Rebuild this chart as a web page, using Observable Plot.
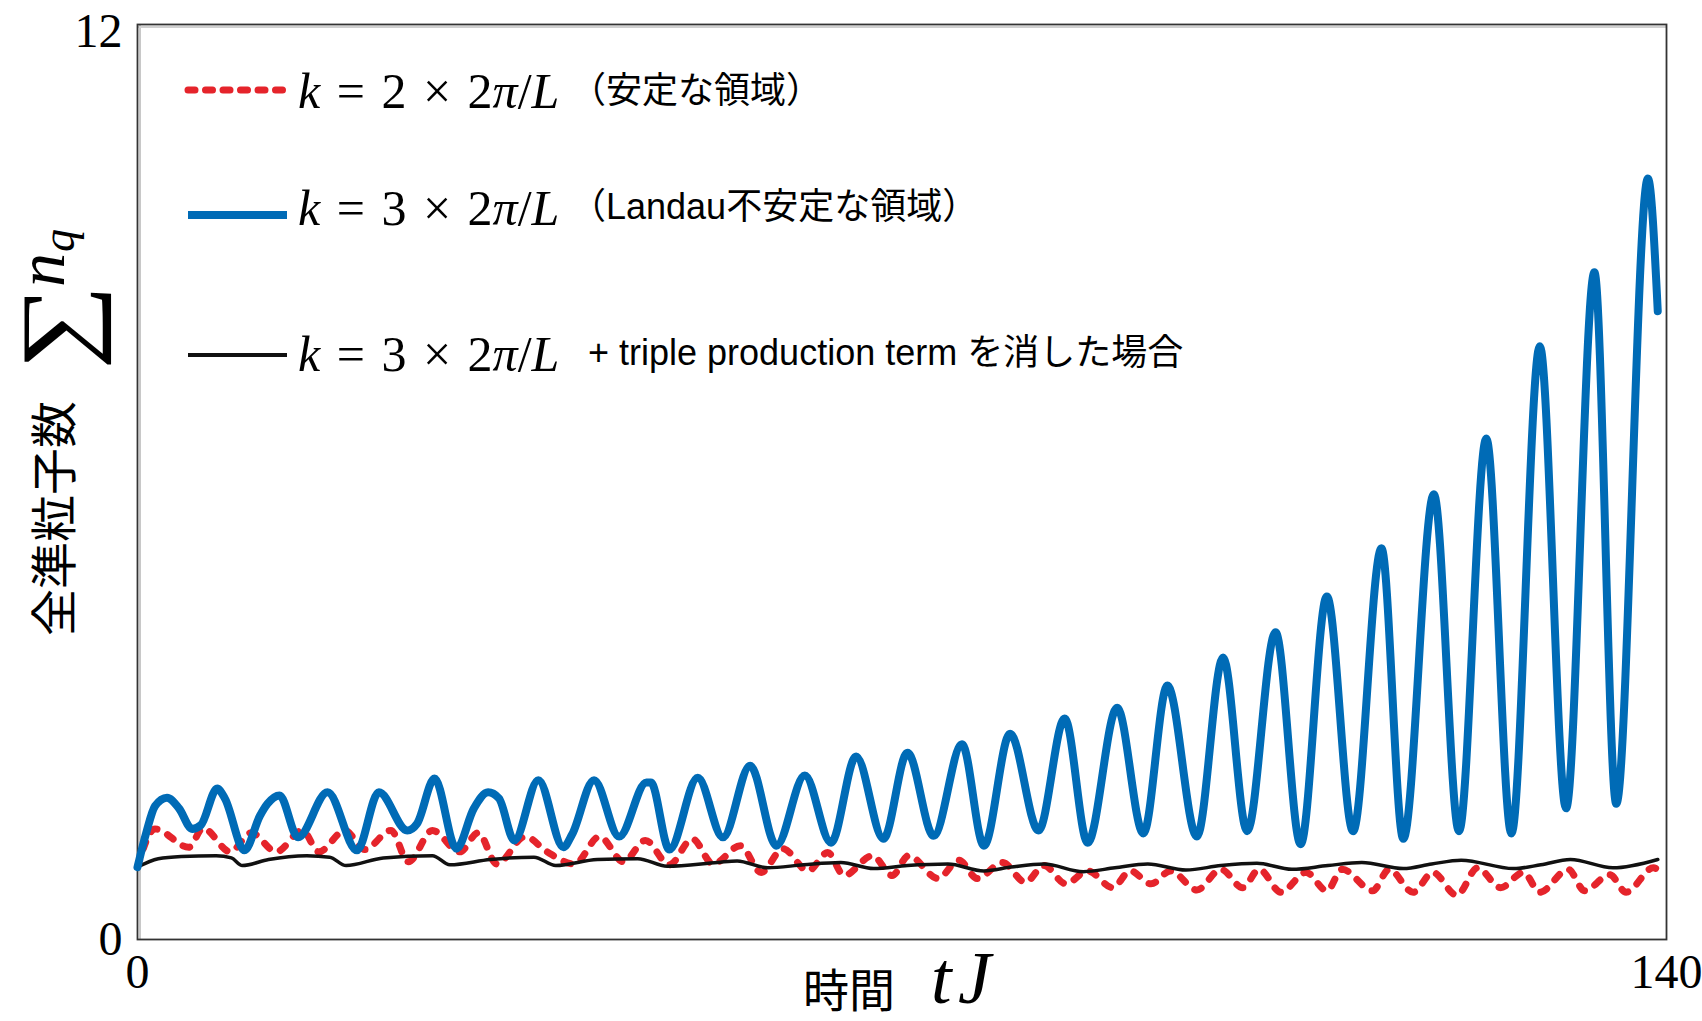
<!DOCTYPE html>
<html><head><meta charset="utf-8">
<script src="https://cdn.jsdelivr.net/npm/d3@7"></script>
<script src="https://cdn.jsdelivr.net/npm/@observablehq/plot@0.6"></script>
<style>
html,body{margin:0;padding:0;background:#fff;}
#wrap{position:relative;width:1702px;height:1021px;overflow:hidden;background:#fff;}
.ov{position:absolute;white-space:nowrap;line-height:1;color:#000;}
.jp{font-family:"Liberation Sans","Noto Sans CJK JP",sans-serif;}
.m{font-family:"Liberation Serif",serif;}
</style></head><body>
<div id="wrap"></div>
<script>
// ---- data ----
const xTicks = [0, 140];
const yTicks = [0, 12];

// k = 3 x 2pi/L (Landau unstable) - blue
const blueT = [0.0,0.8,1.6,2.7,3.8,5.0,5.8,7.3,8.0,9.8,11.2,11.9,13.0,14.7,17.4,20.1,22.1,24.7,25.6,27.2,29.2,30.8,32.1,33.1,34.5,36.7,39.0,39.8,41.8,44.1,46.6,47.0,48.7,51.3,53.6,56.1,58.5,61.1,63.5,65.8,68.3,70.5,72.9,75.5,77.5,79.9,82.5,84.9,87.0,89.7,92.1,94.3,97.0,99.4,101.6,104.2,106.5,108.9,111.3,113.9,115.9,118.7,121.0,123.5,125.8,128.4,130.8,133.4,135.4,138.3,139.2];
const blueV = [0.95,1.40,1.75,1.86,1.72,1.45,1.50,1.98,1.85,1.17,1.62,1.78,1.89,1.34,1.93,1.17,1.93,1.43,1.52,2.11,1.19,1.72,1.93,1.85,1.30,2.09,1.21,1.38,2.09,1.35,2.06,2.06,1.18,2.12,1.34,2.28,1.23,2.15,1.27,2.40,1.32,2.45,1.36,2.56,1.23,2.70,1.43,2.90,1.27,3.04,1.39,3.33,1.35,3.70,1.42,4.03,1.25,4.50,1.42,5.13,1.32,5.84,1.42,6.57,1.39,7.78,1.72,8.75,1.78,9.98,8.24];

// k = 2 x 2pi/L (stable) - red dashed
const redT = [0.0,1.6,4.7,6.0,8.5,10.4,12.7,15.1,16.6,19.0,20.8,23.2,24.8,27.0,29.5,31.2,32.9,35.5,37.5,40.0,42.3,44.5,46.5,48.7,50.8,52.7,55.2,57.1,59.1,61.4,63.2,64.7,67.3,69.1,70.6,73.3,75.2,76.9,79.2,81.3,83.0,85.0,87.0,89.3,90.9,92.8,94.6,97.0,99.2,101.2,102.7,104.7,107.0,108.9,110.3,113.1,114.6,116.8,118.6,120.8,122.7,124.8,126.9,128.4,131.0,132.5,134.8,136.3,138.8,139.6];
const redV = [0.95,1.45,1.21,1.46,1.15,1.40,1.15,1.43,1.15,1.43,1.18,1.43,1.02,1.43,1.15,1.40,0.99,1.35,1.15,0.99,1.35,1.02,1.30,0.98,1.32,0.99,1.23,0.88,1.19,0.90,1.14,0.84,1.10,0.84,1.10,0.80,1.04,0.80,1.01,0.75,0.97,0.73,0.90,0.68,0.90,0.73,0.90,0.65,0.92,0.68,0.92,0.62,0.88,0.64,0.92,0.64,0.92,0.62,0.88,0.58,0.94,0.68,0.88,0.62,0.92,0.64,0.85,0.62,0.94,0.85];

// k = 3 x 2pi/L without triple production term - black
const blackT = [0.0,1.9,4.0,7.2,8.6,9.6,12.0,15.5,17.6,19.1,22.5,27.0,28.6,32.3,36.3,38.3,42.1,45.8,48.5,53.1,54.9,57.7,61.0,64.4,67.4,70.5,74.2,77.5,80.0,83.0,86.6,89.5,92.5,96.0,99.2,102.5,105.7,109.0,112.1,115.9,118.5,121.2,126.0,128.5,131.2,135.1,139.2];
const blackV = [0.95,1.06,1.09,1.10,1.07,0.97,1.05,1.10,1.08,0.97,1.07,1.10,0.98,1.05,1.08,0.97,1.05,1.06,0.96,1.01,1.03,0.94,0.98,1.01,0.93,0.97,0.99,0.90,0.95,0.99,0.89,0.94,0.99,0.91,0.97,1.00,0.92,0.97,1.01,0.93,0.99,1.04,0.93,0.98,1.05,0.94,1.05];

const legendK = ["2", "3", "3"];
const legendNotes = ["（安定な領域）", "（Landau不安定な領域）", "+ triple production term を消した場合"];
const yLabelText = "全準粒子数";
const xLabelText = "時間";

// ---- build ----
const rows = (T, V) => T.map((t, i) => ({t, v: V[i]}));
const RED = "#e5242b", BLUE = "#006bb6", BLACK = "#111";

const chart = Plot.plot({
  width: 1702, height: 1021,
  marginLeft: 137, marginRight: 36, marginTop: 24, marginBottom: 82,
  style: {background: "transparent", fontFamily: "Liberation Serif, serif", overflow: "visible"},
  x: {domain: [0, 140]},
  y: {domain: [0, 12]},
  marks: [
    Plot.axisX({ticks: xTicks, tickSize: 0, tickPadding: 14, fontSize: 48, label: null, fill: "#000"}),
    Plot.axisY({ticks: yTicks.filter(d => d === 0), tickSize: 0, tickPadding: 15, fontSize: 48, label: null, fill: "#000"}),
    Plot.axisY({ticks: yTicks.filter(d => d !== 0), tickSize: 0, tickPadding: 15, fontSize: 48, label: null, fill: "#000", dy: 7}),
    Plot.ruleX([0], {stroke: "#c8c8c8", strokeWidth: 2, dx: 2.5}),
    Plot.ruleY([12], {stroke: "#d0d0d0", strokeWidth: 2, dy: 2.5}),
    Plot.frame({stroke: "#333", strokeWidth: 1.8}),
    Plot.line(rows(redT, redV), {x: "t", y: "v", stroke: RED, strokeWidth: 7, strokeDasharray: "7,12", strokeLinecap: "round", curve: "monotone-x"}),
    Plot.line(rows(blackT, blackV), {x: "t", y: "v", stroke: BLACK, strokeWidth: 3.5, curve: "monotone-x"}),
    Plot.line(rows(blueT, blueV), {x: "t", y: "v", stroke: BLUE, strokeWidth: 8, strokeLinejoin: "round", curve: "monotone-x"})
  ]
});

const wrap = document.getElementById("wrap");
chart.style.position = "absolute";
chart.style.left = "0px";
chart.style.top = "0px";
wrap.appendChild(chart);

function ov(html, left, centerY, cls, extra) {
  const d = document.createElement("div");
  d.className = "ov " + (cls || "");
  d.style.left = left + "px";
  d.style.top = centerY + "px";
  d.style.transform = "translateY(-50%)";
  if (extra) Object.assign(d.style, extra);
  d.innerHTML = html;
  wrap.appendChild(d);
  return d;
}

// legend
const swatchY = [90, 215, 355];
const mathY = [91, 208, 354];
const noteY = [91, 207, 353];
const swatchStyle = [
  {stroke: RED, w: 7, dash: "7,10.5", cap: "round"},
  {stroke: BLUE, w: 8, dash: null, cap: "butt"},
  {stroke: BLACK, w: 4, dash: null, cap: "butt"}
];
legendK.forEach((k, i) => {
  const s = swatchStyle[i];
  const svg = `<svg width="110" height="20" style="display:block"><line x1="4" x2="${i===0?101:103}" y1="10" y2="10" stroke="${s.stroke}" stroke-width="${s.w}" stroke-linecap="${s.cap}" ${s.dash ? `stroke-dasharray="${s.dash}"` : ""}/></svg>`;
  ov(svg, 184, swatchY[i], "");
  ov(`<i>k</i> = ${k} × 2<i>π</i>/<i>L</i>`, 298, mathY[i], "m", {fontSize: "50px", wordSpacing: "4px"});
  ov(legendNotes[i], i === 2 ? 588 : 570, noteY[i], "jp", {fontSize: "36px"});
});

// axis titles as SVG text overlay
const NS = "http://www.w3.org/2000/svg";
const osvg = document.createElementNS(NS, "svg");
osvg.setAttribute("width", "1702");
osvg.setAttribute("height", "1021");
osvg.style.position = "absolute";
osvg.style.left = "0px";
osvg.style.top = "0px";
osvg.style.pointerEvents = "none";
function stext(str, x, y, size, family, italic, rotate, extra) {
  const t = document.createElementNS(NS, "text");
  t.setAttribute("transform", `translate(${x},${y})` + (rotate ? " rotate(-90)" : "") + (extra || ""));
  t.setAttribute("font-size", size);
  t.setAttribute("font-family", family);
  if (italic) t.setAttribute("font-style", "italic");
  t.setAttribute("fill", "#000");
  t.textContent = str;
  osvg.appendChild(t);
  return t;
}
// x title
stext(xLabelText, 803, 1007, 46, "Noto Sans CJK JP, sans-serif", false, false);
stext("t", 931, 1003, 74, "Liberation Serif, serif", true, false);
stext("J", 958, 1003, 74, "Liberation Serif, serif", true, false);
// y title (rotated)
stext(yLabelText, 71, 636, 47, "Noto Sans CJK JP, sans-serif", false, true);
stext("∑", 90, 370, 100, "Liberation Serif, serif", false, true, " scale(1.2,1)");
stext("n", 64, 287, 68, "Liberation Serif, serif", true, true);
stext("q", 74, 252, 46, "Liberation Serif, serif", true, true);
wrap.appendChild(osvg);
</script>
</body></html>
